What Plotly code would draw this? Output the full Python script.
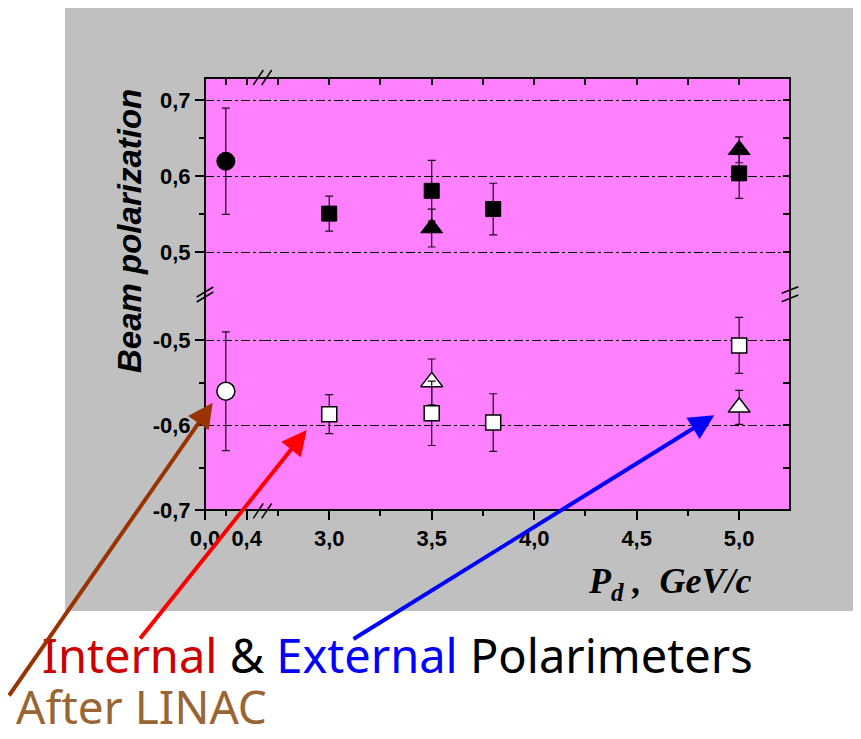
import plotly.graph_objects as go

# ---------------- data ----------------
p_linac = [0.2]
pol_linac_pos = [0.62]
err_linac_pos = [0.07]
pol_linac_neg = [-0.56]
err_linac_neg = [0.07]

p_int = [3.0, 3.5, 3.8, 5.0]
pol_int_pos = [0.551, 0.581, 0.557, 0.604]
err_int_pos = [0.023, 0.040, 0.034, 0.033]
pol_int_neg = [-0.587, -0.586, -0.597, -0.506]
err_int_neg = [0.023, 0.038, 0.034, 0.033]

p_ext = [3.5, 5.0]
pol_ext_pos = [0.532, 0.635]
err_ext_pos = [0.025, 0.017]
pol_ext_neg = [-0.549, -0.579]
err_ext_neg = [0.027, 0.020]

x_ticks_low = [0.0, 0.4]
x_ticktext_low = ["0,0", "0,4"]
x_ticks_high = [3.0, 3.5, 4.0, 4.5, 5.0]
x_ticktext_high = ["3,0", "3,5", "4,0", "4,5", "5,0"]
y_ticks_up = [0.5, 0.6, 0.7]
y_ticktext_up = ["0,5", "0,6", "0,7"]
y_ticks_dn = [-0.7, -0.6, -0.5]
y_ticktext_dn = ["-0,7", "-0,6", "-0,5"]

# ---------------- layout geometry (page pixels; page body has 8px margin) ----------------
OFF = 8
PAGE_W, PAGE_H = 861, 739
W, H = PAGE_W - OFF, PAGE_H - OFF
L, R, T, B = 205, 790, 78, 510
def px(xp):
    return (xp - L) / (R - L)
def py(yp):
    return (B - yp) / (B - T)

xbreak = px(262)
ybreak = py(294)

ERR = dict(type="data", thickness=1.2, width=4, color="#1a0a1a")
fill_black = dict(color="black", line=dict(color="black", width=1))
open_white = dict(color="white", line=dict(color="black", width=1.5))

fig = go.Figure()

def add(x, y, e, symbol, size, style, xa, ya):
    fig.add_trace(go.Scatter(
        x=x, y=y, mode="markers", xaxis=xa, yaxis=ya,
        marker=dict(symbol=symbol, size=size, **style),
        error_y=dict(array=e, **ERR), showlegend=False, hoverinfo="x+y"))

# lower (negative) half
add(p_linac, pol_linac_neg, err_linac_neg, "circle", 18, open_white, "x", "y")
add(p_ext, pol_ext_neg, err_ext_neg, "triangle-up", 19, open_white, "x2", "y")
add(p_int, pol_int_neg, err_int_neg, "square", 15, open_white, "x2", "y")
# upper (positive) half
add(p_linac, pol_linac_pos, err_linac_pos, "circle", 18, fill_black, "x", "y2")
add(p_ext, pol_ext_pos, err_ext_pos, "triangle-up", 19, fill_black, "x2", "y2")
add(p_int, pol_int_pos, err_int_pos, "square", 15, fill_black, "x2", "y2")
# dummy traces to materialise mirror-tick axes
for xa, ya in [("x3", "y2"), ("x4", "y2"), ("x2", "y3"), ("x2", "y4")]:
    fig.add_trace(go.Scatter(x=[None], y=[None], xaxis=xa, yaxis=ya,
                             showlegend=False, hoverinfo="skip"))

tickfont = dict(family="Liberation Sans, Arial", size=22, color="black", weight="bold")
common_x = dict(showgrid=False, zeroline=False, showline=False, ticks="outside",
                ticklen=9, tickwidth=1.5, tickcolor="black", tickfont=tickfont,
                tickmode="array")
common_y = dict(showgrid=True, gridcolor="black", griddash="dashdot", gridwidth=1,
                zeroline=False, showline=False, ticks="outside", ticklen=9,
                tickwidth=1.5, tickcolor="black", tickfont=tickfont, tickmode="array")

xr1 = [0, 0.547]
xr2 = [2.672, 5.248]
yr_dn = [-0.7, -0.4454]
yr_up = [0.4451, 0.7296]

fig.update_layout(
    width=W, height=H, autosize=False,
    margin=dict(l=L - OFF, r=PAGE_W - R, t=T - OFF, b=PAGE_H - B, pad=0),
    paper_bgcolor="white", plot_bgcolor="rgba(0,0,0,0)",
    showlegend=False,
    xaxis=dict(domain=[0, xbreak], range=xr1, anchor="y",
               tickvals=x_ticks_low, ticktext=x_ticktext_low,
               minor=dict(tickvals=[0.2], ticks="outside", ticklen=5, tickwidth=1.5, tickcolor="black"),
               **common_x),
    xaxis2=dict(domain=[xbreak, 1], range=xr2, anchor="y",
                tickvals=x_ticks_high, ticktext=x_ticktext_high,
                minor=dict(tickvals=[2.75, 3.25, 3.75, 4.25, 4.75, 5.25], ticks="outside",
                           ticklen=5, tickwidth=1.5, tickcolor="black"),
                **common_x),
    xaxis3=dict(overlaying="x", side="top", anchor="y2", range=xr1, showgrid=False,
                zeroline=False, showline=False, showticklabels=False, ticks="inside",
                ticklen=7, tickwidth=1.5, tickcolor="black", tickmode="array",
                tickvals=[0.2, 0.4]),
    xaxis4=dict(overlaying="x2", side="top", anchor="y2", range=xr2, showgrid=False,
                zeroline=False, showline=False, showticklabels=False, ticks="inside",
                ticklen=7, tickwidth=1.5, tickcolor="black", tickmode="array",
                tickvals=[2.75, 3.0, 3.25, 3.5, 3.75, 4.0, 4.25, 4.5, 4.75, 5.0]),
    yaxis=dict(domain=[0, ybreak], range=yr_dn, anchor="x",
               tickvals=y_ticks_dn, ticktext=y_ticktext_dn,
               minor=dict(tickvals=[-0.65, -0.55], ticks="outside", ticklen=5,
                          tickwidth=1.5, tickcolor="black", showgrid=False),
               **common_y),
    yaxis2=dict(domain=[ybreak, 1], range=yr_up, anchor="x",
                tickvals=y_ticks_up, ticktext=y_ticktext_up,
                minor=dict(tickvals=[0.55, 0.65], ticks="outside", ticklen=5,
                           tickwidth=1.5, tickcolor="black", showgrid=False),
                **common_y),
    yaxis3=dict(overlaying="y", side="right", anchor="x2", range=yr_dn, showgrid=False,
                zeroline=False, showline=False, showticklabels=False, ticks="inside",
                ticklen=7, tickwidth=1.5, tickcolor="black", tickmode="array",
                tickvals=[-0.65, -0.6, -0.55, -0.5]),
    yaxis4=dict(overlaying="y2", side="right", anchor="x2", range=yr_up, showgrid=False,
                zeroline=False, showline=False, showticklabels=False, ticks="inside",
                ticklen=7, tickwidth=1.5, tickcolor="black", tickmode="array",
                tickvals=[0.5, 0.55, 0.6, 0.65, 0.7]),
)

shapes = [
    dict(type="rect", xref="paper", yref="paper", x0=px(65), x1=px(870), y0=py(611), y1=py(8),
         fillcolor="#C0C0C0", line=dict(width=0), layer="below"),
    dict(type="rect", xref="paper", yref="paper", x0=0, x1=1, y0=0, y1=1,
         fillcolor="#FF80FF", line=dict(width=0), layer="below"),
    dict(type="rect", xref="paper", yref="paper", x0=0, x1=1, y0=0, y1=1,
         line=dict(color="black", width=2), layer="above"),
]
# axis-break marks
for (a, b, c, d) in [
    (253.3, 518.3, 263.3, 503.3), (261.7, 518.3, 271.7, 503.3),
    (253.3, 85, 263.3, 70), (261.7, 85, 271.7, 70),
    (196.7, 297, 213.3, 287), (196.7, 302, 213.3, 292),
    (781.7, 293.3, 798.3, 286.7), (781.7, 301.7, 798.3, 295),
]:
    shapes.append(dict(type="line", xref="paper", yref="paper",
                       x0=px(a), y0=py(b), x1=px(c), y1=py(d),
                       line=dict(color="black", width=1.5), layer="above"))
fig.update_layout(shapes=shapes)

ann = []
ann.append(dict(xref="paper", yref="paper", x=px(130), y=py(231), textangle=-90,
                text="Beam polarization", showarrow=False, xanchor="center", yanchor="middle",
                font=dict(family="Liberation Sans, Arial", size=33, color="black",
                          weight="bold", style="italic")))
ann.append(dict(xref="paper", yref="paper", x=px(670), y=py(583),
                text="P<sub>d</sub> ,&nbsp; GeV/c", showarrow=False, xanchor="center", yanchor="middle",
                font=dict(family="Liberation Serif, Times New Roman", size=36, color="black",
                          weight="bold", style="italic")))
ann.append(dict(xref="paper", yref="paper", x=px(40), y=py(655), xanchor="left", yanchor="middle",
                showarrow=False,
                text='<span style="color:#CC0000">Internal</span> &amp; '
                     '<span style="color:#0000FF">External</span> Polarimeters',
                font=dict(family="Comic Sans MS, Noto Sans", size=47, color="black")))
ann.append(dict(xref="paper", yref="paper", x=px(14), y=py(739), xanchor="left", yanchor="bottom",
                showarrow=False, text="After LINAC",
                font=dict(family="Comic Sans MS, Noto Sans", size=46, color="#996633")))
for (tx, ty, ax, ay, col) in [
    (212.7, 402.7, -207.7, 294.3, "#993300"),
    (306.7, 430.0, -167.7, 210.0, "#FF0000"),
    (714.3, 415.3, -362.3, 224.7, "#0000FF"),
]:
    ann.append(dict(xref="paper", yref="paper", x=px(tx), y=py(ty), ax=ax, ay=ay,
                    text="", showarrow=True, arrowhead=2, arrowsize=1.25, arrowwidth=4,
                    arrowcolor=col, standoff=0, startstandoff=0))
fig.update_layout(annotations=ann)

fig.write_html("out.html")
